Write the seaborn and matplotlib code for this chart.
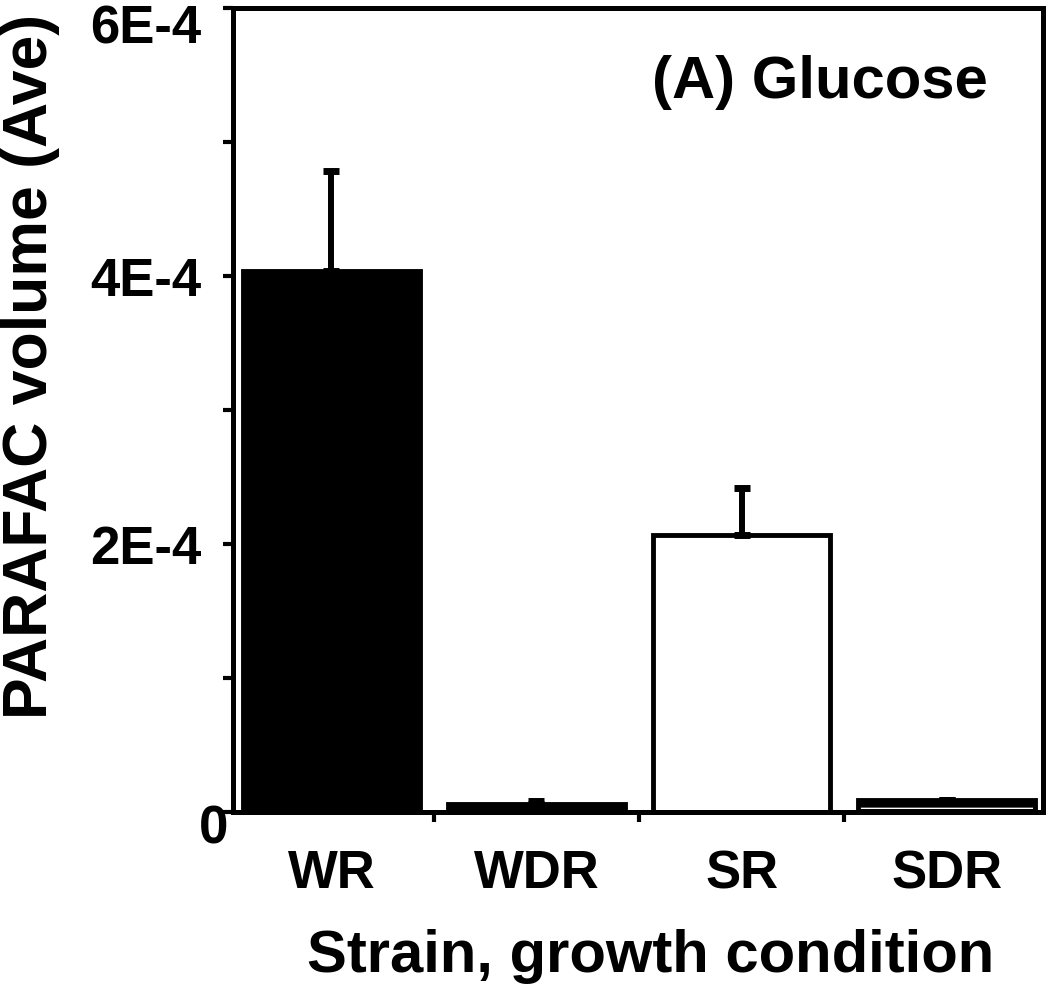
import matplotlib
matplotlib.use("Agg")
import matplotlib.pyplot as plt
import matplotlib.transforms as mtransforms
import seaborn as sns
import numpy as np
import pandas as pd

categories = ["WR", "WDR", "SR", "SDR"]
values = [4.04e-4, 6.0e-6, 2.07e-4, 9.0e-6]
errors_up = [0.74e-4, 2.0e-6, 0.35e-4, 0.0]
bar_colors = ["black", "black", "white", "black"]
y_major = [0, 2e-4, 4e-4, 6e-4]
y_major_labels = ["", "2E-4", "4E-4", "6E-4"]
y_minor = [1e-4, 3e-4, 5e-4]
x_minor = [0.5, 1.5, 2.5]

sns.set_theme(style="white")
plt.rcParams['font.family'] = ['Liberation Sans', 'DejaVu Sans']
plt.rcParams['font.weight'] = 'bold'
for k in ['text.color', 'axes.labelcolor', 'xtick.color', 'ytick.color']:
    plt.rcParams[k] = 'black'

fig = plt.figure(figsize=(10.5, 9.91), dpi=100)
ax = fig.add_axes([233/1050, 1-812/991, (1043-233)/1050, (812-8)/991])

df = pd.DataFrame({"cat": categories, "val": values})
sns.barplot(data=df, x="cat", y="val", hue="cat", palette=dict(zip(categories, bar_colors)),
            legend=False, edgecolor="black", linewidth=3.5, width=0.86, ax=ax,
            errorbar=None)

# dashed hatch on SDR (white dashes on black)
plt.rcParams['hatch.linewidth'] = 2.0
sdr = ax.patches[3]
sdr.set_hatch('-')
sdr._hatch_color = (1, 1, 1, 1)

xpos = np.arange(len(categories))
ax.errorbar(xpos, values, yerr=[np.zeros(len(values)), errors_up], fmt='none',
            ecolor='black', elinewidth=4.3, capsize=6, capthick=5, zorder=1)

ax.set_xlim(-0.48, 3.47)
ax.set_ylim(0, 6e-4)

ax.set_yticks(y_major)
ax.set_yticklabels(y_major_labels, fontsize=38, fontweight='bold')
ax.set_yticks(y_minor, minor=True)
ax.set_xticks(xpos)
ax.set_xticklabels(categories, fontsize=38, fontweight='bold')
ax.set_xticks(x_minor, minor=True)

ax.tick_params(axis='y', which='both', direction='out', length=7, width=3, color='black',
               left=True, pad=16)
ax.tick_params(axis='x', which='major', length=0, pad=27, bottom=True)
ax.tick_params(axis='x', which='minor', direction='out', length=7, width=3, color='black', bottom=True)

# shift top tick label down so it stays inside the figure
top_lbl = ax.yaxis.get_major_ticks()[3].label1
top_lbl.set_transform(top_lbl.get_transform() +
                      mtransforms.ScaledTranslation(0, -16/100, fig.dpi_scale_trans))

for s in ax.spines.values():
    s.set_visible(True)
    s.set_color('black')
    s.set_linewidth(3.6)

# origin label "0"
tr = mtransforms.offset_copy(ax.get_yaxis_transform(), fig=fig, x=-5, y=-17, units='dots')
ax.text(0, 0, "0", transform=tr, ha='right', va='center', fontsize=38, fontweight='bold')

ax.set_xlabel("Strain, growth condition", fontsize=43, fontweight='bold')
ax.xaxis.set_label_coords(0.516, -0.145)
ax.set_ylabel("PARAFAC volume (Ave)", fontsize=45, fontweight='bold')
ax.yaxis.set_label_coords(-0.214, 0.554)

ax.text(0.932, 0.888, "(A) Glucose", transform=ax.transAxes, ha='right', va='baseline',
        fontsize=43, fontweight='bold')

fig.savefig("out.png", dpi=100)
